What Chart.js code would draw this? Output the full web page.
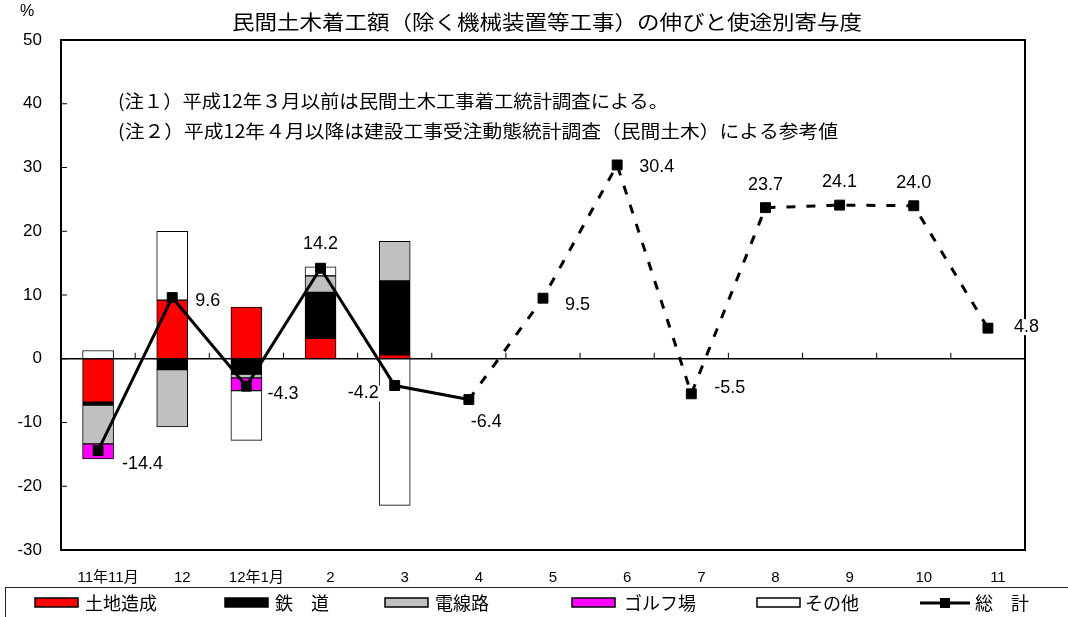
<!DOCTYPE html>
<html>
<head>
<meta charset="utf-8">
<script src="https://cdn.jsdelivr.net/npm/chart.js@4/dist/chart.umd.min.js"></script>
<style>
  html, body { margin: 0; padding: 0; background: #fff; }
</style>
</head>
<body>
<canvas id="grafico" width="1068" height="617"></canvas>
<script>
// 月（カテゴリ）
const meses = ['11年11月', '12', '12年1月', '2', '3', '4', '5', '6', '7', '8', '9', '10', '11'];

// 使途別寄与度 (%)
const tochiZosei = [-6.8, 9.2, 8.1, 3.2, 0.6, null, null, null, null, null, null, null, null];
const tetsudo    = [-0.45, -1.7, -2.4, 7.2, 11.6, null, null, null, null, null, null, null, null];
const densenro   = [-6.1, -9.0, -0.6, 2.6, 6.2, null, null, null, null, null, null, null, null];
const golfjo     = [-2.35, null, -2.0, null, null, null, null, null, null, null, null, null, null];
const sonota     = [1.3, 10.8, -7.8, 1.4, -23.0, null, null, null, null, null, null, null, null];

// 総計 (%)
const sokei = [-14.4, 9.6, -4.3, 14.2, -4.2, -6.4, 9.5, 30.4, -5.5, 23.7, 24.1, 24.0, 4.8];

const yTicks = [-30, -20, -10, 0, 10, 20, 30, 40, 50];

const FONTE = '"Liberation Sans", "Noto Sans CJK JP", sans-serif';
const FONTE_JP = '"Noto Sans CJK JP", sans-serif';

// 数値ラベルの置き方 [dx, dy, align]
const posRotulo = [
    [24, 13, 'left'], [23, 3, 'left'], [21, 8, 'left'], [0, -24, 'center'],
    [-16, 8, 'right'], [2, 22, 'left'], [22, 7, 'left'], [22, 2, 'left'],
    [23, -6, 'left'], [0, -23, 'center'], [0, -23, 'center'], [0, -23, 'center'],
    [26, -1, 'left']
];

function escreve(c, txt, x, y, largura, align) {
    const w = c.measureText(txt).width;
    c.save();
    c.translate(x, y);
    c.scale(largura / w, 1);
    c.textAlign = align;
    c.fillText(txt, 0, 0);
    c.restore();
}

const extras = {
    id: 'extras',
    beforeDatasetsDraw(chart) {
        const c = chart.ctx;
        const a = chart.chartArea;
        const y = chart.scales.y;
        const y0 = y.getPixelForValue(0);
        c.save();
        c.strokeStyle = '#000';
        c.lineWidth = 1.5;
        c.beginPath();
        c.moveTo(a.left, y0);
        c.lineTo(a.right, y0);
        c.stroke();
        c.lineWidth = 1;
        // 目盛り
        yTicks.forEach(v => {
            const py = y.getPixelForValue(v);
            c.beginPath();
            c.moveTo(a.left, py);
            c.lineTo(a.left + 6, py);
            c.stroke();
        });
        const passo = (a.right - a.left) / meses.length;
        for (let i = 1; i < meses.length; i++) {
            const px = a.left + passo * i;
            c.beginPath();
            c.moveTo(px, y0);
            c.lineTo(px, y0 - 6);
            c.stroke();
        }
        c.restore();
    },
    afterDraw(chart) {
        const c = chart.ctx;
        const a = chart.chartArea;
        c.save();
        c.strokeStyle = '#000';
        c.lineWidth = 2;
        c.strokeRect(a.left, a.top, a.right - a.left, a.bottom - a.top);

        c.fillStyle = '#000';
        c.textBaseline = 'middle';

        // タイトル
        c.font = '20px ' + FONTE_JP;
        escreve(c, '民間土木着工額（除く機械装置等工事）の伸びと使途別寄与度', 547, 22, 630, 'center');
        c.font = '16px ' + FONTE;
        c.textAlign = 'left';
        c.fillText('%', 20, 12);

        // 注
        c.font = '18px ' + FONTE_JP;
        escreve(c, '(注１）平成12年３月以前は民間土木工事着工統計調査による。', 118, 101, 550, 'left');
        escreve(c, '(注２）平成12年４月以降は建設工事受注動態統計調査（民間土木）による参考値', 118, 131, 720, 'left');

        // 数値ラベル
        c.font = '18px ' + FONTE;
        const meta = chart.getDatasetMeta(5);
        meta.data.forEach((p, i) => {
            const [dx, dy, al] = posRotulo[i];
            const txt = sokei[i].toFixed(1);
            const w = c.measureText(txt).width;
            const tx = p.x + dx;
            const x0 = al === 'left' ? tx : al === 'right' ? tx - w : tx - w / 2;
            c.fillStyle = '#fff';
            c.fillRect(x0 - 2, p.y + dy - 8, w + 4, 16);
            c.fillStyle = '#000';
            c.textAlign = al;
            c.fillText(txt, tx, p.y + dy);
        });

        // 凡例
        c.lineWidth = 1;
        c.strokeStyle = '#222';
        c.strokeRect(5.5, 587.5, 1070, 32);
        const xsSw = [35, 225, 385, 572, 757];
        const xsTx = [85, 275, 435, 624, 805, 975];
        c.font = '18px ' + FONTE_JP;
        c.textAlign = 'left';
        chart.data.datasets.forEach((ds, i) => {
            if (i < 5) {
                c.fillStyle = ds.backgroundColor;
                c.fillRect(xsSw[i], 598, 43, 9);
                c.strokeStyle = '#000';
                c.lineWidth = 1.5;
                c.strokeRect(xsSw[i], 598, 43, 9);
            } else {
                c.strokeStyle = '#000';
                c.lineWidth = 3;
                c.beginPath();
                c.moveTo(920, 603);
                c.lineTo(970, 603);
                c.stroke();
                c.fillStyle = '#000';
                c.fillRect(940, 598, 10, 10);
            }
            c.fillStyle = '#000';
            c.fillText(ds.label, xsTx[i], 603);
        });
        c.restore();
    }
};

const barra = (label, data, cor) => ({
    type: 'bar',
    label: label,
    data: data,
    backgroundColor: cor,
    borderColor: '#000',
    borderWidth: 1,
    borderSkipped: false,
    barThickness: 31,
    stack: 's',
    order: 1
});

new Chart(document.getElementById('grafico'), {
    data: {
        labels: meses,
        datasets: [
            barra('土地造成', tochiZosei, '#FF0000'),
            barra('鉄　道', tetsudo, '#000000'),
            barra('電線路', densenro, '#C0C0C0'),
            barra('ゴルフ場', golfjo, '#FF00FF'),
            barra('その他', sonota, '#FFFFFF'),
            {
                type: 'line',
                label: '総　計',
                data: sokei,
                borderColor: '#000',
                borderWidth: 3,
                pointStyle: 'rect',
                pointRadius: 7,
                pointBackgroundColor: '#000',
                pointBorderColor: '#000',
                pointBorderWidth: 1,
                segment: {
                    borderDash: ctx => ctx.p0DataIndex >= 5 ? [9, 11] : undefined
                },
                order: 0
            }
        ]
    },
    options: {
        responsive: false,
        animation: false,
        events: [],
        layout: { padding: { top: 40, right: 43, left: 5, bottom: 0 } },
        plugins: {
            legend: { display: false },
            title: { display: false },
            tooltip: { enabled: false }
        },
        scales: {
            x: {
                stacked: true,
                offset: true,
                grid: { display: false, drawTicks: false },
                border: { display: false },
                ticks: {
                    color: '#000',
                    font: { family: FONTE, size: 15 },
                    padding: 19,
                    labelOffset: 10,
                    maxRotation: 0,
                    autoSkip: false
                },
                afterFit(s) { s.height = 67; }
            },
            y: {
                stacked: true,
                min: -30,
                max: 50,
                grid: { display: false, drawTicks: false },
                border: { display: false },
                ticks: {
                    stepSize: 10,
                    color: '#000',
                    font: { family: FONTE, size: 17 },
                    padding: 19
                },
                afterFit(s) { s.width = 56; }
            }
        }
    },
    plugins: [extras]
});
</script>
</body>
</html>
